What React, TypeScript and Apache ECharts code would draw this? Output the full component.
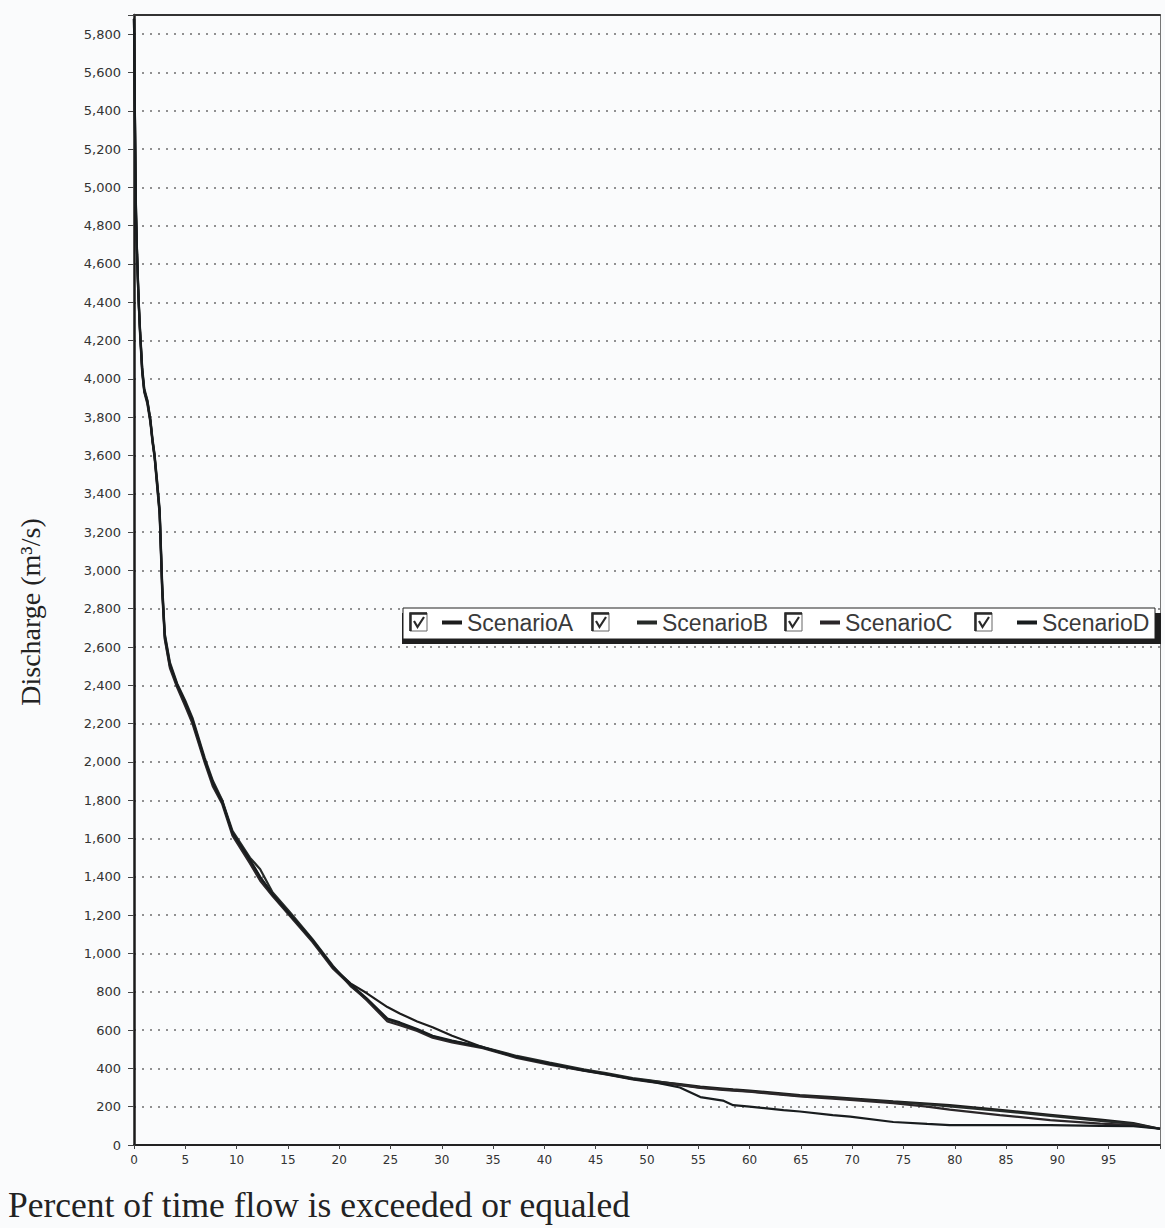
import React, { useEffect, useRef } from "react";
import * as echarts from "echarts";

// Percent of time flow is exceeded or equaled (x values)
const pct = [
  0, 0.05, 0.1, 0.15, 0.2, 0.3, 0.4, 0.5, 0.6, 0.8,
  1.0, 1.3, 1.6, 1.8, 2.0, 2.25, 2.5, 2.75, 3.0, 3.5,
  4.2, 5.0, 5.7, 6.9, 7.7, 8.6, 9.6, 11.3, 12.3, 13.5,
  15.2, 17.4, 19.4, 21.1, 22.7, 24.7, 25.9, 27.6, 29.1, 31.0,
  34.0, 37.3, 40.5, 43.8, 46.0, 48.6, 50.3, 53.2, 55.2, 57.4,
  58.4, 60.0, 63.3, 64.9, 68.1, 69.8, 74.0, 77.3, 79.5, 84.4,
  89.3, 94.2, 97.4, 100,
];

// Discharge (m3/s)
const scenarioA = [
  5880, 5600, 5300, 5050, 4850, 4650, 4480, 4350, 4235, 4040,
  3937, 3885, 3781, 3677, 3600, 3450, 3300, 2900, 2650, 2500,
  2400, 2300, 2213, 2005, 1885, 1797, 1625, 1484, 1396, 1312,
  1208, 1068, 927, 844, 792, 720, 687, 645, 615, 570,
  510, 458, 427, 391, 372, 345, 335, 318, 305, 295,
  290, 284, 268, 260, 250, 244, 228, 216, 208, 184,
  158, 132, 114, 85,
];
const scenarioB = [
  5880, 5620, 5320, 5060, 4870, 4660, 4500, 4360, 4250, 4060,
  3950, 3890, 3790, 3690, 3610, 3470, 3320, 2930, 2670, 2520,
  2410, 2320, 2230, 2020, 1900, 1800, 1640, 1500, 1440, 1320,
  1215, 1075, 935, 830, 760, 655, 635, 600, 568, 542,
  512, 465, 430, 395, 375, 350, 338, 315, 300, 290,
  286, 280, 264, 256, 246, 240, 224, 212, 202, 178,
  152, 126, 110, 85,
];
const scenarioC = [
  5880, 5580, 5290, 5040, 4840, 4640, 4470, 4340, 4220, 4030,
  3930, 3870, 3770, 3670, 3590, 3440, 3290, 2880, 2640, 2490,
  2390, 2290, 2200, 1995, 1870, 1780, 1615, 1470, 1380, 1300,
  1195, 1060, 920, 835, 755, 645, 625, 595, 560, 535,
  505, 455, 420, 388, 368, 342, 330, 312, 298, 288,
  284, 278, 262, 254, 242, 236, 218, 200, 185, 156,
  130, 112, 104, 85,
];
const scenarioD = [
  5880, 5600, 5310, 5050, 4860, 4650, 4490, 4350, 4240, 4050,
  3940, 3880, 3780, 3680, 3600, 3460, 3310, 2910, 2660, 2510,
  2405, 2310, 2220, 2010, 1890, 1790, 1630, 1490, 1400, 1310,
  1205, 1070, 930, 840, 765, 660, 640, 605, 570, 545,
  510, 460, 425, 390, 370, 345, 332, 300, 250, 232,
  208, 200, 182, 175, 156, 148, 120, 110, 104, 104,
  104, 100, 98, 85,
];

const seriesNames = ["ScenarioA", "ScenarioB", "ScenarioC", "ScenarioD"];
const seriesValues = [scenarioA, scenarioB, scenarioC, scenarioD];
const seriesColors = ["#1c1c1c", "#262a28", "#2a2628", "#181c1e"];

const xAxisTitle = "Percent of time flow is exceeded or equaled";
const yAxisTitle = "Discharge (m\u00b3/s)";

// legend layout (pixels)
const legendLineX = [442, 637, 820, 1017];
const checkboxX = [410, 592, 785, 975];

function checkbox(x: number, y: number) {
  return [
    {
      type: "rect",
      z: 30,
      shape: { x, y, width: 17, height: 18 },
      style: { fill: "#ffffff", stroke: "#666", lineWidth: 1 },
    },
    {
      type: "polyline",
      z: 31,
      shape: { points: [[x + 0.5, y + 18], [x + 0.5, y + 0.5], [x + 17, y + 0.5]] },
      style: { stroke: "#2a2a2a", lineWidth: 2.5, fill: "none" },
    },
    {
      type: "polyline",
      z: 31,
      shape: { points: [[x + 4, y + 8], [x + 7.5, y + 14], [x + 14, y + 4]] },
      style: { stroke: "#2a2a2a", lineWidth: 2.2, fill: "none" },
    },
  ];
}

export default function App() {
  const ref = useRef<HTMLDivElement>(null);

  useEffect(() => {
    if (!ref.current) return;
    const chart = echarts.init(ref.current, null, { renderer: "svg" });

    const option: any = {
      animation: false,
      backgroundColor: "#fafbfc",
      grid: { left: 134, right: 5, top: 15, bottom: 83, containLabel: false },
      xAxis: [
        {
          type: "value",
          min: 0,
          max: 100,
          interval: 5,
          axisLine: { show: true, onZero: false, lineStyle: { color: "#222", width: 2 } },
          axisTick: { show: true, inside: false, length: 4, lineStyle: { color: "#444" } },
          axisLabel: {
            margin: 9,
            fontSize: 12,
            fontFamily: "DejaVu Sans",
            color: "#333",
            formatter: (v: number) => (v >= 100 ? "" : String(v)),
          },
          splitLine: { show: false },
        },
        {
          type: "value",
          position: "top",
          min: 0,
          max: 100,
          axisLine: { show: true, onZero: false, lineStyle: { color: "#333", width: 2 } },
          axisTick: { show: false },
          axisLabel: { show: false },
          splitLine: { show: false },
        },
      ],
      yAxis: [
        {
          type: "value",
          min: 0,
          max: 5900,
          interval: 200,
          axisLine: { show: true, onZero: false, lineStyle: { color: "#1a1a1a", width: 2.5 } },
          axisTick: { show: true, inside: false, length: 6, lineStyle: { color: "#444" } },
          axisLabel: {
            margin: 13,
            fontSize: 13,
            fontFamily: "DejaVu Sans",
            color: "#333",
            formatter: (v: number) =>
              v % 200 === 0 ? v.toLocaleString("en-US") : "",
          },
          splitLine: {
            show: true,
            lineStyle: { color: "#6e6e6e", width: 1.6, type: [2, 6] },
          },
        },
        {
          type: "value",
          position: "right",
          min: 0,
          max: 5900,
          axisLine: { show: true, onZero: false, lineStyle: { color: "#777", width: 1 } },
          axisTick: { show: false },
          axisLabel: { show: false },
          splitLine: { show: false },
        },
      ],
      legend: seriesNames.map((name, i) => ({
        data: [name],
        left: legendLineX[i],
        top: 611,
        padding: 0,
        itemWidth: 20,
        itemHeight: 4,
        icon: "rect",
        selectedMode: false,
        z: 20,
        textStyle: {
          fontSize: 23,
          fontFamily: "Liberation Sans",
          color: "#3a3a3a",
        },
      })),
      graphic: [
        {
          type: "rect",
          z: 10,
          shape: { x: 402, y: 613, width: 759, height: 31 },
          style: { fill: "#1e1e1e" },
        },
        {
          type: "rect",
          z: 11,
          shape: { x: 403, y: 608, width: 752, height: 31 },
          style: { fill: "#ffffff", stroke: "#222", lineWidth: 1 },
        },
        ...checkboxX.flatMap((x) => checkbox(x, 613)),
        {
          type: "text",
          z: 20,
          x: 30,
          y: 612,
          rotation: Math.PI / 2,
          style: {
            text: yAxisTitle,
            fontSize: 28,
            fontFamily: "Liberation Serif",
            fill: "#222",
            align: "center",
            verticalAlign: "middle",
          },
        },
        {
          type: "text",
          z: 20,
          x: 8,
          y: 1205,
          style: {
            text: xAxisTitle,
            fontSize: 35.5,
            fontFamily: "Liberation Serif",
            fill: "#222",
            align: "left",
            verticalAlign: "middle",
          },
        },
      ],
      series: seriesNames.map((name, i) => ({
        name,
        type: "line",
        xAxisIndex: 0,
        yAxisIndex: 0,
        showSymbol: false,
        symbol: "none",
        color: seriesColors[i],
        lineStyle: { width: 2.2, color: seriesColors[i] },
        data: pct.map((p, k) => [p, seriesValues[i][k]]),
      })),
    };

    chart.setOption(option);
    return () => chart.dispose();
  }, []);

  return (
    <div
      ref={ref}
      style={{ position: "absolute", left: 0, top: 0, width: 1165, height: 1228 }}
    />
  );
}
